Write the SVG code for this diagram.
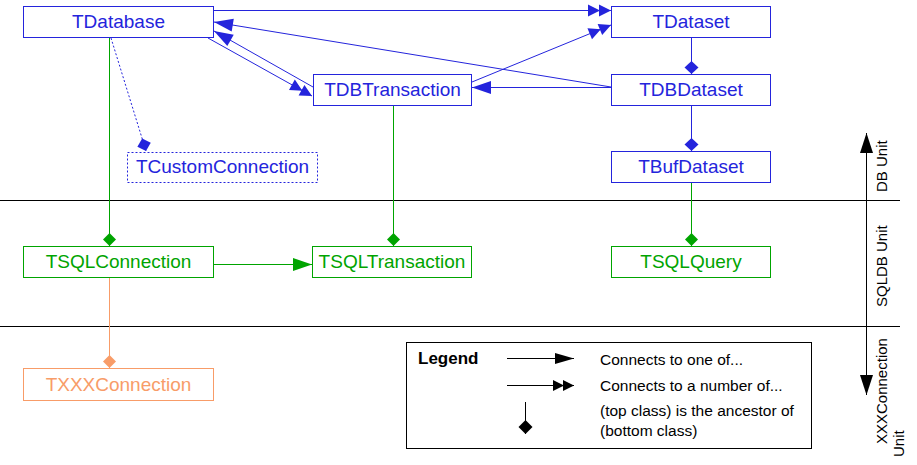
<svg xmlns="http://www.w3.org/2000/svg" width="917" height="465" viewBox="0 0 917 465">
<style>
  .node rect { fill: #ffffff; stroke-width: 1; }
  .node text { font-family: "Liberation Sans", Arial, sans-serif; font-size: 19px; text-anchor: middle; }
  .blue rect { stroke: #2424DC; }
  .blue text { fill: #2424DC; }
  .green rect { stroke: #00A400; }
  .green text { fill: #00A400; }
  .orange rect { stroke: #F89C68; }
  .orange text { fill: #F89C68; }
  .dotted rect { stroke-dasharray: 2 2; }
  .c { fill: none; stroke-width: 1; }
  .cb { stroke: #2424DC; }
  .cg { stroke: #00A400; }
  .co { stroke: #F89C68; }
  .ck { stroke: #000000; }
  .lbl { font-family: "Liberation Sans", Arial, sans-serif; font-size: 15.5px; fill: #000; }
  .unit { font-family: "Liberation Sans", Arial, sans-serif; font-size: 15px; fill: #000; }
</style>
<defs>
  <marker id="oneB" markerUnits="userSpaceOnUse" markerWidth="24" markerHeight="16" viewBox="-20 -8 24 16" refX="0" refY="0" orient="auto">
    <path d="M0,0 L-19,-6.5 L-19,6.5 Z" fill="#2424DC"/>
  </marker>
  <marker id="manyB" markerUnits="userSpaceOnUse" markerWidth="28" markerHeight="16" viewBox="-25 -8 28 16" refX="0" refY="0" orient="auto">
    <path d="M0,0 L-12,-6 L-12,6 Z M-11,0 L-23,-6 L-23,6 Z" fill="#2424DC"/>
  </marker>
  <marker id="oneG" markerUnits="userSpaceOnUse" markerWidth="24" markerHeight="16" viewBox="-20 -8 24 16" refX="0" refY="0" orient="auto">
    <path d="M0,0 L-19,-6.5 L-19,6.5 Z" fill="#00A400"/>
  </marker>
  <marker id="oneK" markerUnits="userSpaceOnUse" markerWidth="24" markerHeight="16" viewBox="-20 -8 24 16" refX="0" refY="0" orient="auto">
    <path d="M0,0 L-19,-5.5 L-19,5.5 Z" fill="#000"/>
  </marker>
  <marker id="manyK" markerUnits="userSpaceOnUse" markerWidth="28" markerHeight="16" viewBox="-25 -8 28 16" refX="0" refY="0" orient="auto">
    <path d="M0,0 L-11,-5.5 L-11,5.5 Z M-10,0 L-21,-5.5 L-21,5.5 Z" fill="#000"/>
  </marker>
  <marker id="diaB" markerUnits="userSpaceOnUse" markerWidth="16" markerHeight="16" viewBox="-15 -8 16 16" refX="0" refY="0" orient="auto">
    <path d="M0,0 L-6.5,-7 L-13,0 L-6.5,7 Z" fill="#2424DC"/>
  </marker>
  <marker id="diaG" markerUnits="userSpaceOnUse" markerWidth="16" markerHeight="16" viewBox="-15 -8 16 16" refX="0" refY="0" orient="auto">
    <path d="M0,0 L-6.5,-6.5 L-13,0 L-6.5,6.5 Z" fill="#00A400"/>
  </marker>
  <marker id="diaO" markerUnits="userSpaceOnUse" markerWidth="16" markerHeight="16" viewBox="-15 -8 16 16" refX="0" refY="0" orient="auto">
    <path d="M0,0 L-6.5,-6.5 L-13,0 L-6.5,6.5 Z" fill="#F89C68"/>
  </marker>
  <marker id="diaK" markerUnits="userSpaceOnUse" markerWidth="16" markerHeight="16" viewBox="-15 -8 16 16" refX="0" refY="0" orient="auto">
    <path d="M0,0 L-7,-7 L-14,0 L-7,7 Z" fill="#000"/>
  </marker>
  <marker id="arrK" markerUnits="userSpaceOnUse" markerWidth="24" markerHeight="16" viewBox="-21 -8 24 16" refX="0" refY="0" orient="auto">
    <path d="M0,0 L-20,-6.5 L-20,6.5 Z" fill="#000"/>
  </marker>
</defs>

<!-- unit separators and unit axis -->
<g id="units">
  <line class="c ck" x1="0" y1="200.5" x2="900" y2="200.5"/>
  <line class="c ck" x1="0" y1="326.5" x2="900" y2="326.5"/>
  <line class="c ck" x1="866.5" y1="266" x2="866.5" y2="133" marker-end="url(#arrK)"/>
  <line class="c ck" x1="866.5" y1="266" x2="866.5" y2="395" marker-end="url(#arrK)"/>
  <text class="unit" transform="translate(887,192) rotate(-90)">DB Unit</text>
  <text class="unit" transform="translate(887,307) rotate(-90)">SQLDB Unit</text>
  <text class="unit" transform="translate(887,444) rotate(-90)">XXXConnection</text>
  <text class="unit" transform="translate(904,457) rotate(-90)">Unit</text>
</g>

<g id="connectors">
  <line class="c cb" x1="213" y1="10.5" x2="611" y2="10.5" marker-end="url(#manyB)"/>
  <line class="c cb" x1="611" y1="87" x2="214" y2="22" marker-end="url(#oneB)"/>
  <line class="c cb" x1="313" y1="87" x2="214" y2="31" marker-end="url(#oneB)"/>
  <line class="c cb" x1="208" y1="38" x2="312" y2="96" marker-end="url(#manyB)"/>
  <line class="c cb" x1="472" y1="82" x2="611" y2="25" marker-end="url(#manyB)"/>
  <line class="c cb" x1="611" y1="87.5" x2="472" y2="87.5" marker-end="url(#oneB)"/>
  <line class="c cb" x1="111" y1="38" x2="146" y2="151" stroke-dasharray="2 2" marker-end="url(#diaB)"/>
  <line class="c cb" x1="691.5" y1="37" x2="691.5" y2="74" marker-end="url(#diaB)"/>
  <line class="c cb" x1="691.5" y1="105" x2="691.5" y2="151" marker-end="url(#diaB)"/>
  <line class="c cg" x1="109.5" y1="37" x2="109.5" y2="246" marker-end="url(#diaG)"/>
  <line class="c cg" x1="393.5" y1="105" x2="393.5" y2="246" marker-end="url(#diaG)"/>
  <line class="c cg" x1="691.5" y1="182" x2="691.5" y2="246" marker-end="url(#diaG)"/>
  <line class="c cg" x1="213" y1="264.5" x2="312" y2="264.5" marker-end="url(#oneG)"/>
  <line class="c co" x1="109.5" y1="277" x2="109.5" y2="368" marker-end="url(#diaO)"/>
</g>

<g id="TDatabase" class="node blue">
  <rect x="23.5" y="6.5" width="190" height="31"/>
  <text x="118.5" y="28">TDatabase</text>
</g>
<g id="TDataset" class="node blue">
  <rect x="611.5" y="6.5" width="159" height="31"/>
  <text x="691" y="28">TDataset</text>
</g>
<g id="TDBTransaction" class="node blue">
  <rect x="313.5" y="74.5" width="158" height="31"/>
  <text x="392.5" y="96">TDBTransaction</text>
</g>
<g id="TDBDataset" class="node blue">
  <rect x="611.5" y="74.5" width="159" height="31"/>
  <text x="691" y="96">TDBDataset</text>
</g>
<g id="TCustomConnection" class="node blue dotted">
  <rect x="127.5" y="152.5" width="190" height="30"/>
  <text x="222.5" y="173">TCustomConnection</text>
</g>
<g id="TBufDataset" class="node blue">
  <rect x="611.5" y="151.5" width="159" height="31"/>
  <text x="691" y="173">TBufDataset</text>
</g>
<g id="TSQLConnection" class="node green">
  <rect x="23.5" y="246.5" width="190" height="31"/>
  <text x="118.5" y="268">TSQLConnection</text>
</g>
<g id="TSQLTransaction" class="node green">
  <rect x="312.5" y="246.5" width="159" height="31"/>
  <text x="392" y="268">TSQLTransaction</text>
</g>
<g id="TSQLQuery" class="node green">
  <rect x="611.5" y="246.5" width="159" height="31"/>
  <text x="691" y="268">TSQLQuery</text>
</g>
<g id="TXXXConnection" class="node orange">
  <rect x="23.5" y="368.5" width="190" height="32"/>
  <text x="118.5" y="391">TXXXConnection</text>
</g>

<g id="legend">
  <rect x="406.5" y="342.5" width="405" height="106" fill="#fff" stroke="#000" stroke-width="1"/>
  <text x="418" y="364" font-family="'Liberation Sans', Arial, sans-serif" font-size="17px" font-weight="bold" fill="#000">Legend</text>
  <line class="c ck" x1="507" y1="358.5" x2="574" y2="358.5" marker-end="url(#oneK)"/>
  <text class="lbl" x="600" y="365">Connects to one of...</text>
  <line class="c ck" x1="507" y1="385.5" x2="574" y2="385.5" marker-end="url(#manyK)"/>
  <text class="lbl" x="600" y="391">Connects to a number of...</text>
  <line class="c ck" x1="525.5" y1="402" x2="525.5" y2="434" marker-end="url(#diaK)"/>
  <text class="lbl" x="600" y="416">(top class) is the ancestor of</text>
  <text class="lbl" x="600" y="436">(bottom class)</text>
</g>
</svg>
